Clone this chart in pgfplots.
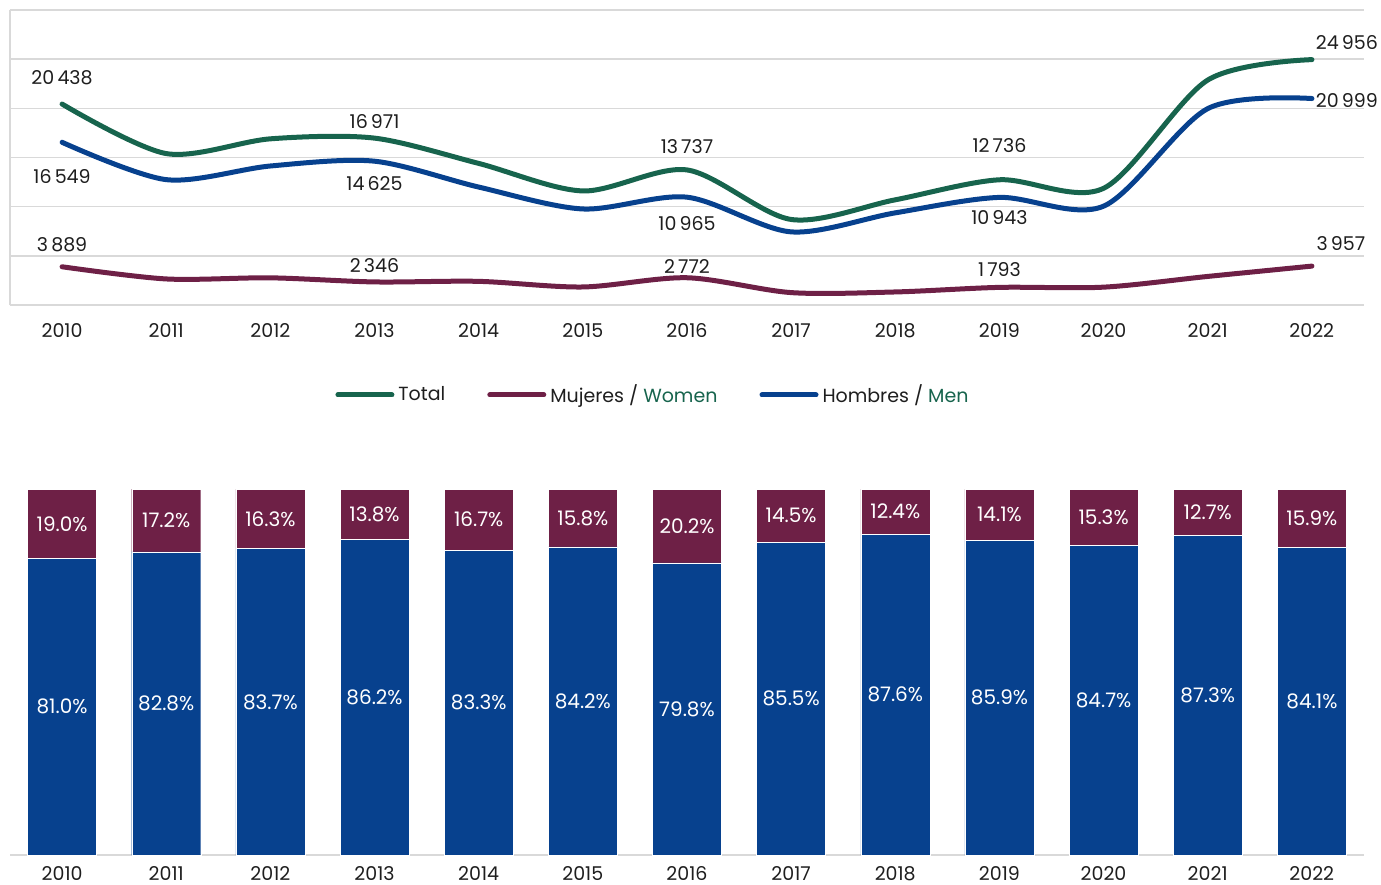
\documentclass[border=0pt]{standalone}
\usepackage{pgfplots}
\pgfplotsset{compat=1.18}
\usepackage{pgfplotstable}
\usepackage{fontspec}
\setmainfont{Poppins}

\definecolor{totgreen}{HTML}{17644D}
\definecolor{wmaroon}{HTML}{6E2046}
\definecolor{menblue}{HTML}{07418E}
\definecolor{gridgrey}{HTML}{D9D9D9}
\definecolor{txt}{HTML}{1E1E1E}

\newcommand\lf{\fontsize{9.5}{11}\selectfont}

% totals = men + women
\pgfplotstableread{
year total women men
2010 20438 3889 16549
2011 15400 2650 12750
2012 16900 2763 14137
2013 16971 2346 14625
2014 14400 2405 11995
2015 11600 1833 9767
2016 13737 2772 10965
2017 8700 1262 7438
2018 10700 1327 9373
2019 12736 1793 10943
2020 11870 1816 10054
2021 22880 2906 19974
2022 24956 3957 20999
}\lines

\pgfplotstableread{
year men women
2010 81.0 19.0
2011 82.8 17.2
2012 83.7 16.3
2013 86.2 13.8
2014 83.3 16.7
2015 84.2 15.8
2016 79.8 20.2
2017 85.5 14.5
2018 87.6 12.4
2019 85.9 14.1
2020 84.7 15.3
2021 87.3 12.7
2022 84.1 15.9
}\shares

\pgfplotsset{/pgf/number format/assume math mode=true}

\begin{document}
\begin{tikzpicture}
\path[use as bounding box] (0pt,0pt) rectangle (690.5pt,-442pt);

% ---- top: line chart
\begin{axis}[
  at={(5pt,-152.5pt)}, anchor=south west, scale only axis,
  width=677pt, height=147.5pt, clip=false,
  xmin=2009.5, xmax=2022.5, ymin=0, ymax=30000,
  xtick={2010,...,2022}, ytick={0,5000,...,30000}, yticklabels={},
  scaled y ticks=false,
  ymajorgrids, major grid style={gridgrey, line width=0.75pt},
  axis lines*=left, axis line style={gridgrey, line width=0.75pt},
  tick style={draw=none},
  xticklabel style={font=\lf, text=txt, yshift=-5.5pt, /pgf/number format/1000 sep={}},
  legend style={at={(0.4756,-0.305)}, anchor=center, draw=none, fill=none,
    legend columns=-1, font=\lf, text=txt,
    /tikz/every even column/.append style={column sep=19pt}},
  legend image code/.code={\draw[#1, line cap=round] (0pt,0pt) -- (27pt,0pt);},
]
\addplot[totgreen, line width=2.5pt, smooth, line cap=round] table[x=year, y=total] {\lines};
\addlegendentry{Total}
\addplot[wmaroon, line width=2.5pt, smooth, line cap=round] table[x=year, y=women] {\lines};
\addlegendentry{Mujeres / \textcolor{totgreen}{Women}}
\addplot[menblue, line width=2.5pt, smooth, line cap=round] table[x=year, y=men] {\lines};
\addlegendentry{Hombres / \textcolor{totgreen}{Men}}

\begin{scope}[every node/.style={font=\lf, text=txt}]
% total
\node[yshift=13pt]  at (axis cs:2010,20438) {20\,438};
\node[yshift=8.5pt] at (axis cs:2013,16971) {16\,971};
\node[yshift=11.5pt] at (axis cs:2016,13737) {13\,737};
\node[yshift=17pt]  at (axis cs:2019,12736) {12\,736};
\node[xshift=17.5pt, yshift=8.5pt] at (axis cs:2022,24956) {24\,956};
% men
\node[yshift=-17pt] at (axis cs:2010,16549) {16\,549};
\node[yshift=-11pt] at (axis cs:2013,14625) {14\,625};
\node[yshift=-13pt] at (axis cs:2016,10965) {10\,965};
\node[yshift=-10pt] at (axis cs:2019,10943) {10\,943};
\node[xshift=17.5pt, yshift=-1pt] at (axis cs:2022,20999) {20\,999};
% women
\node[yshift=11pt]  at (axis cs:2010,3889) {3\,889};
\node[yshift=8pt]   at (axis cs:2013,2346) {2\,346};
\node[yshift=5.5pt] at (axis cs:2016,2772) {2\,772};
\node[yshift=9pt]   at (axis cs:2019,1793) {1\,793};
\node[xshift=14.5pt, yshift=11.5pt] at (axis cs:2022,3957) {3\,957};
\end{scope}
\end{axis}

% ---- bottom: 100% stacked bars
\begin{axis}[
  at={(5pt,-427.5pt)}, anchor=south west, scale only axis,
  width=677pt, height=183pt,
  ybar stacked, bar width=34.5pt,
  xmin=2009.5, xmax=2022.5, ymin=0, ymax=100,
  xtick={2010,...,2022}, ytick=\empty,
  axis x line*=bottom, axis y line=none,
  x axis line style={gridgrey, line width=0.75pt},
  tick style={draw=none},
  xticklabel style={font=\lf, text=txt, inner sep=0pt, yshift=-5.5pt, /pgf/number format/1000 sep={}},
  nodes near coords={\pgfmathprintnumber[fixed, fixed zerofill, precision=1]{\pgfplotspointmeta}\%},
  every node near coord/.append style={font=\fontsize{10}{12}\selectfont, text=white, anchor=center},
]
\addplot[fill=menblue, draw=white, line width=0.2pt] table[x=year, y=men] {\shares};
\addplot[fill=wmaroon, draw=white, line width=0.2pt] table[x=year, y=women] {\shares};
\end{axis}
\end{tikzpicture}
\end{document}
